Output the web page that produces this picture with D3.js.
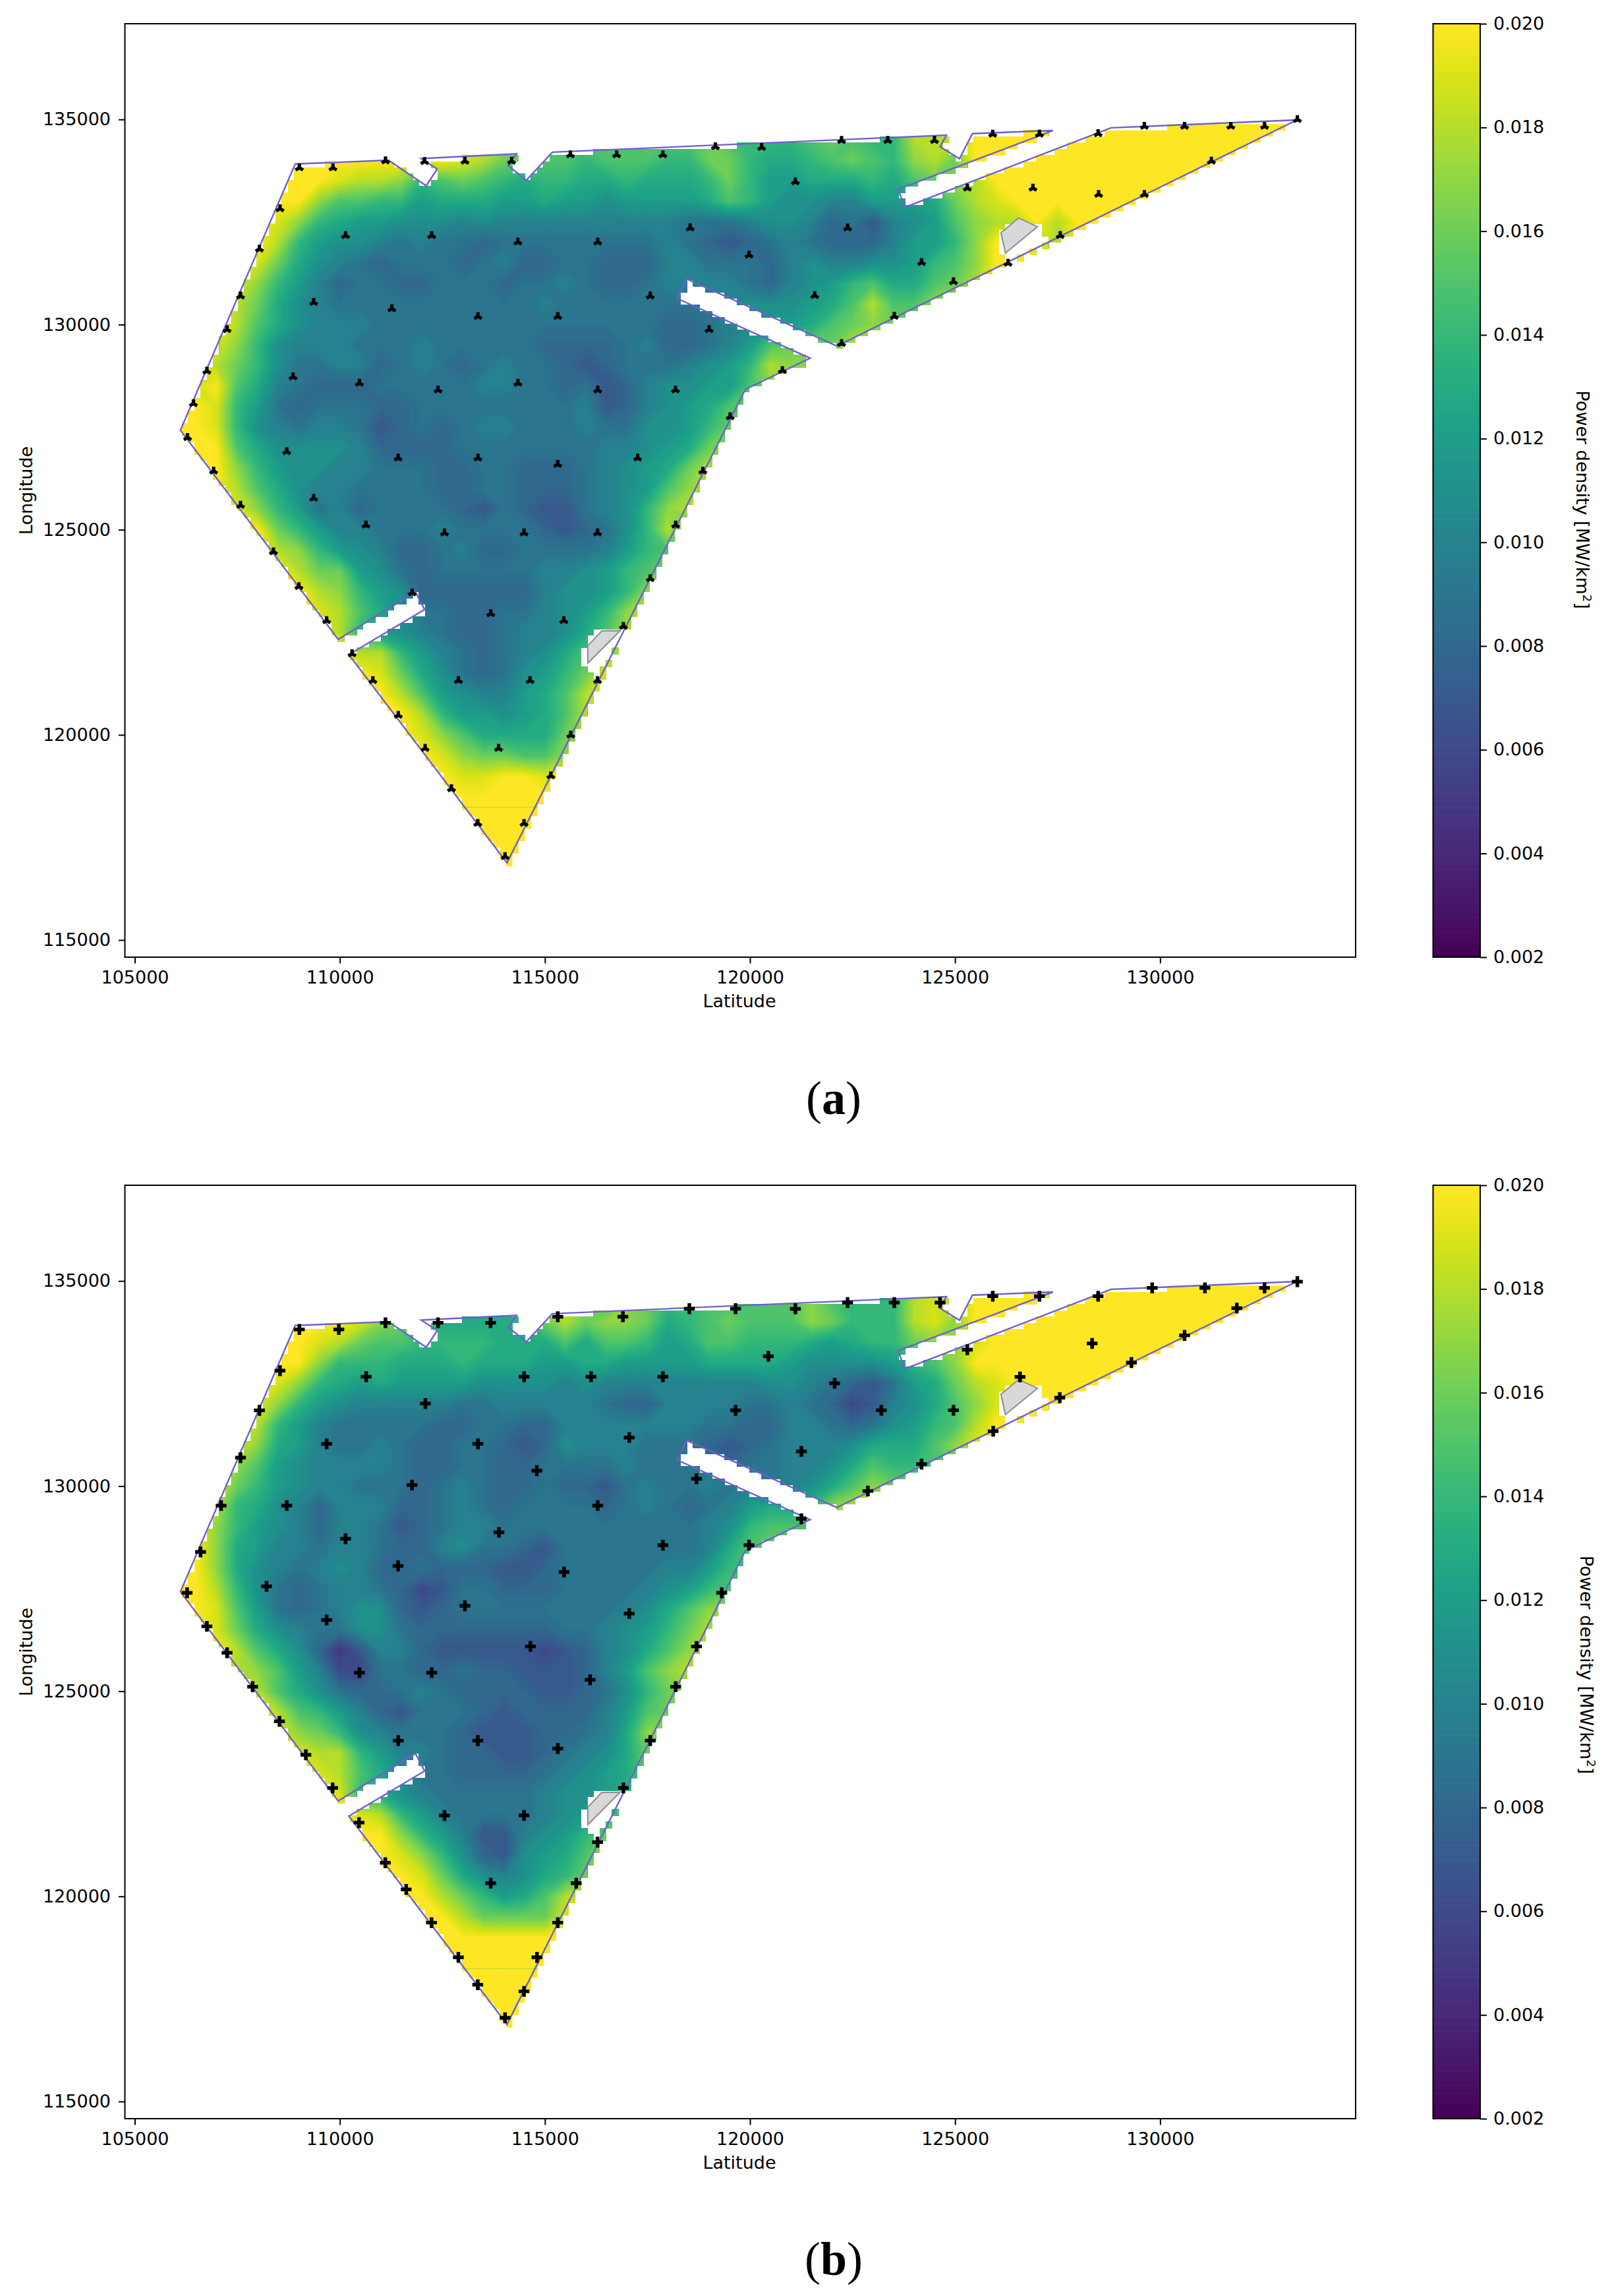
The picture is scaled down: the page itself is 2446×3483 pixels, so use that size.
<!DOCTYPE html>
<html>
<head>
<meta charset="utf-8">
<script src="https://cdn.jsdelivr.net/npm/d3@7"></script>
<style>
  body { margin: 0; background: #fff; }
  text { font-family: "DejaVu Sans", sans-serif; fill: #000; }
</style>
</head>
<body>
<div id="chart"></div>
<script>
const xTicks = [105000, 110000, 115000, 120000, 125000, 130000];
const yTicks = [115000, 120000, 125000, 130000, 135000];
const colorTicks = [0.002, 0.004, 0.006, 0.008, 0.010, 0.012, 0.014, 0.016, 0.018, 0.020];

// grid of the power density readings, 500 m spacing. East and south of it the map is saturated.
const gridX = d3.range(106000, 128001, 500);
const gridY = d3.range(135000, 118499, -500);

// power density in 0.001 MW/km2, one row per gridY, one value per gridX
const powerA = [
  [20,20,20,20,20, 20,20,20,20,20, 20,20,20,19,19, 18,17,16,15,15, 15,15,15,15,15, 15,16,15,14,14, 14,15,16,15,14, 14,18,18,18,20, 20,20,20,20,20],
  [20,20,20,20,20, 20,20,20,20,20, 20,20,20,19,19, 18,17,16,15,15, 15,15,15,15,15, 15,16,15,14,14, 14,15,16,15,14, 14,18,18,18,20, 20,20,20,20,20],
  [20,20,20,20,20, 20,20,20,20,20, 20,20,19,20,19, 18,16,16,15,15, 14,15,15,15,14, 14,16,16,14,13, 13,14,15,16,15, 14,17,18,16,20, 20,20,20,20,20],
  [20,20,20,20,20, 20,20,20,19,18, 18,17,14,15,16, 15,14,13,14,14, 13,13,14,13,13, 13,14,16,14,12, 12,13,13,13,14, 13,15,16,17,18, 20,20,20,20,20],
  [20,20,20,20,20, 20,20,17,15,15, 14,14,12,13,13, 13,12,12,13,12, 12,11,12,12,12, 12,13,15,14,12, 11,11,10,10,12, 12,12,13,16,18, 19,20,20,20,20],
  [20,20,20,20,20, 19,17,14,13,12, 12,11,11,11,10, 11,10,10,10,10, 10,10,10,10,10, 9,9,9,10,11, 11,10,8,9,7, 10,11,12,15,17, 18,18,20,18,20],
  [20,20,20,20,20, 18,14,12,11,11, 10,9,10,9,9, 8,9,9,9,9, 9,9,9,9,10, 9,8,7,8,9, 10,9,8,8,8, 10,12,12,14,17, 20,20,19,18,20],
  [20,20,20,20,19, 16,13,11,10,9, 8,9,9,9,8, 9,10,8,8,9, 9,8,8,8,10, 10,9,9,9,8, 10,11,10,10,11, 11,12,14,15,17, 20,20,20,20,20],
  [20,20,20,19,17, 14,12,10,8,9, 9,8,8,9,9, 9,8,9,9,10, 9,8,8,9,10, 10,10,10,9,8, 10,11,12,14,15, 13,13,15,16,18, 20,20,20,20,20],
  [20,20,20,18,16, 13,11,10,9,9, 9,9,9,9,9, 9,9,9,10,9, 9,9,9,9,9, 9,9,10,11,11, 11,12,13,15,18, 15,15,17,17,18, 20,20,20,20,20],
  [20,20,20,18,15, 13,11,10,10,10, 9,9,9,9,9, 9,9,9,9,9, 9,9,9,9,8, 8,9,10,11,12, 12,13,15,16,17, 16,16,17,18,18, 20,20,20,20,20],
  [20,20,19,17,14, 11,10,10,10,9, 9,9,10,9,9, 9,9,9,8,8, 8,8,9,10,8, 8,9,10,12,15, 16,16,16,18,18, 18,18,18,18,20, 20,20,20,20,20],
  [20,20,18,16,14, 11,9,9,10,10, 8,9,10,9,8, 9,10,9,9,8, 7,8,9,9,9, 10,11,12,14,18, 17,17,17,18,18, 18,18,18,18,20, 20,20,20,20,20],
  [20,19,20,15,13, 10,9,8,8,8, 9,9,9,9,9, 10,10,9,9,8, 9,7,8,10,11, 11,12,12,15,17, 17,17,17,18,18, 18,18,18,18,20, 20,20,20,20,20],
  [20,20,19,14,12, 9,8,9,9,9, 8,8,9,9,9, 9,9,9,9,9, 10,7,8,10,11, 12,13,15,16,16, 17,17,18,18,18, 18,18,18,18,20, 20,20,20,20,20],
  [20,20,19,14,11, 10,9,10,10,9, 7,8,9,8,9, 10,10,9,9,9, 10,9,9,11,11, 12,14,16,17,17, 17,18,18,18,18, 18,18,18,18,20, 20,20,20,20,20],
  [20,20,20,15,13, 11,11,11,11,10, 8,8,8,8,9, 9,9,9,9,9, 9,10,10,11,12, 13,16,17,18,18, 18,18,18,18,18, 18,18,18,18,20, 20,20,20,20,20],
  [20,20,20,17,14, 12,11,11,10,10, 9,9,9,8,8, 9,9,8,8,8, 9,10,11,12,13, 16,18,18,18,18, 18,18,18,18,18, 18,18,18,18,20, 20,20,20,20,20],
  [20,20,20,18,15, 13,11,10,10,9, 9,9,9,8,8, 9,9,8,8,8, 9,10,11,12,15, 17,18,18,18,18, 18,18,18,18,18, 18,18,18,18,20, 20,20,20,20,20],
  [20,20,20,19,17, 14,12,9,10,8, 9,9,9,9,8, 7,9,8,7,7, 9,10,11,14,17, 18,18,18,18,18, 18,18,18,18,18, 18,18,18,18,20, 20,20,20,20,20],
  [20,20,20,20,20, 16,14,12,10,10, 9,9,9,10,9, 9,9,9,8,7, 8,9,11,14,18, 15,17,17,17,17, 18,18,18,18,18, 18,18,18,18,20, 20,20,20,20,20],
  [20,20,20,20,20, 18,17,14,12,11, 10,8,8,9,10, 8,8,9,9,9, 9,10,12,14,15, 16,17,17,17,17, 18,18,18,18,18, 18,18,18,18,20, 20,20,20,20,20],
  [20,20,20,20,20, 20,18,16,16,12, 11,9,8,9,9, 9,9,9,10,10, 11,12,14,15,17, 17,17,17,17,17, 18,18,18,18,18, 18,18,18,18,20, 20,20,20,20,20],
  [20,20,20,20,20, 20,20,18,17,14, 12,11,8,8,8, 8,8,8,10,11, 11,12,14,17,17, 17,17,17,17,17, 18,18,18,18,18, 18,18,18,18,20, 20,20,20,20,20],
  [20,20,20,20,20, 20,20,19,18,15, 13,11,9,9,8, 8,9,9,10,11, 12,14,17,18,18, 18,18,18,18,18, 18,18,18,18,18, 18,18,18,18,20, 20,20,20,20,20],
  [20,20,20,20,20, 20,20,20,18,14, 12,11,10,9,8, 8,9,10,10,11, 13,15,18,18,18, 18,18,18,18,18, 18,18,18,18,18, 18,18,18,18,20, 20,20,20,20,20],
  [20,20,20,20,20, 20,20,20,20,18, 18,14,12,10,9, 8,9,10,11,13, 15,17,18,18,18, 18,18,18,18,18, 18,18,18,18,18, 18,18,18,18,20, 20,20,20,20,20],
  [20,20,20,20,20, 20,20,20,20,20, 19,16,13,11,9, 8,9,11,12,14, 16,19,19,19,19, 19,19,19,19,19, 19,19,19,19,19, 19,19,19,19,20, 20,20,20,20,20],
  [20,20,20,20,20, 20,20,20,20,20, 20,18,15,12,11, 10,10,12,13,15, 18,19,19,19,19, 19,19,19,19,19, 19,19,19,19,19, 19,19,19,19,20, 20,20,20,20,20],
  [20,20,20,20,20, 20,20,20,20,20, 20,20,18,14,12, 12,11,12,13,15, 18,19,19,19,19, 19,19,19,19,19, 19,19,19,19,19, 19,19,19,19,20, 20,20,20,20,20],
  [20,20,20,20,20, 20,20,20,20,20, 20,20,19,17,15, 13,13,13,13,16, 18,19,19,19,19, 19,19,19,19,19, 19,19,19,19,19, 19,19,19,19,20, 20,20,20,20,20],
  [20,20,20,20,20, 20,20,20,20,20, 20,20,20,19,17, 16,16,15,15,17, 19,20,20,20,20, 20,20,20,20,20, 20,20,20,20,20, 20,20,20,20,20, 20,20,20,20,20],
  [20,20,20,20,20, 20,20,20,20,20, 20,20,20,20,19, 19,20,20,19,20, 20,20,20,20,20, 20,20,20,20,20, 20,20,20,20,20, 20,20,20,20,20, 20,20,20,20,20],
  [20,20,20,20,20, 20,20,20,20,20, 20,20,20,20,20, 20,20,20,20,20, 20,20,20,20,20, 20,20,20,20,20, 20,20,20,20,20, 20,20,20,20,20, 20,20,20,20,20]
];
const powerB = [
  [20,20,20,20,20, 20,20,20,20,20, 19,17,16,14,14, 13,13,14,16,18, 16,15,17,16,14, 14,15,15,15,15, 15,17,15,14,14, 14,18,19,18,20, 20,20,20,20,20],
  [20,20,20,20,20, 20,20,20,20,20, 19,17,16,14,14, 13,13,14,16,18, 16,15,17,16,14, 14,15,15,15,15, 15,17,15,14,14, 14,18,19,18,20, 20,20,20,20,20],
  [20,20,20,20,20, 20,20,20,20,19, 17,16,15,13,13, 13,13,14,16,18, 16,17,17,16,13, 14,15,16,15,15, 15,17,16,14,14, 14,18,19,17,20, 20,20,20,20,20],
  [20,20,20,20,20, 20,20,19,18,16, 15,15,14,14,14, 14,13,13,13,15, 13,15,15,14,12, 13,15,15,14,14, 14,13,12,13,14, 14,16,17,17,19, 20,20,20,20,20],
  [20,20,20,20,20, 20,20,17,14,14, 14,13,13,13,14, 13,13,13,12,12, 13,13,12,12,12, 12,13,13,13,13, 12,11,11,11,11, 12,14,15,17,20, 20,20,20,20,20],
  [20,20,20,20,20, 19,17,14,13,12, 13,12,12,12,12, 11,11,11,11,10, 11,10,10,10,10, 10,10,10,10,11, 11,10,9,8,7, 9,12,13,16,18, 19,20,20,20,20],
  [20,20,20,20,19, 17,14,12,11,10, 10,10,10,10,9, 9,10,10,10,10, 10,9,8,8,10, 10,10,10,9,9, 10,9,8,6,7, 10,11,13,15,17, 19,20,20,20,20],
  [20,20,20,20,18, 14,12,10,9,9, 9,9,9,8,8, 9,9,8,8,10, 10,10,10,10,10, 10,9,9,8,8, 10,10,9,8,9, 11,12,14,15,18, 20,20,20,20,20],
  [20,20,20,19,17, 13,12,10,9,9, 10,9,8,8,9, 9,8,7,8,11, 10,10,10,9,9, 9,8,7,8,9, 10,10,10,11,13, 13,13,15,17,19, 20,20,20,20,20],
  [20,20,20,17,15, 12,11,10,10,10, 10,9,8,8,9, 9,8,8,9,9, 9,9,10,9,9, 9,9,8,9,9, 10,10,11,13,15, 14,14,15,16,19, 20,20,20,20,20],
  [20,20,19,16,14, 12,11,10,10,9, 9,9,8,9,10, 9,8,8,9,8, 8,7,9,10,9, 9,10,9,10,9, 10,11,13,15,17, 16,16,15,17,18, 20,20,20,20,20],
  [20,20,18,14,13, 11,10,8,10,10, 10,8,8,9,10, 9,8,9,9,9, 9,8,9,10,9, 8,9,10,12,13, 13,14,17,18,18, 18,18,18,18,20, 20,20,20,20,20],
  [20,20,17,14,12, 11,10,8,10,10, 9,7,8,9,10, 10,9,9,9,9, 9,9,9,9,9, 9,10,11,14,15, 15,15,17,18,18, 18,18,18,18,20, 20,20,20,20,20],
  [20,20,17,13,12, 10,10,9,10,10, 9,8,8,10,11, 9,9,8,7,9, 9,9,9,9,9, 9,10,13,15,16, 16,16,17,18,18, 18,18,18,18,20, 20,20,20,20,20],
  [20,20,17,13,11, 10,9,10,11,10, 8,8,9,8,8, 8,7,7,8,9, 9,9,9,9,10, 10,12,14,15,16, 16,16,17,18,18, 18,18,18,18,20, 20,20,20,20,20],
  [20,20,18,14,11, 9,8,9,10,10, 9,8,6,7,9, 9,8,8,8,9, 9,9,9,10,11, 12,14,15,16,16, 16,16,17,18,18, 18,18,18,18,20, 20,20,20,20,20],
  [20,20,19,15,12, 9,8,9,10,11, 11,8,7,8,9, 9,9,9,9,9, 9,9,10,11,13, 15,17,17,18,18, 18,18,18,18,18, 18,18,18,18,20, 20,20,20,20,20],
  [20,20,19,16,13, 11,10,9,9,11, 11,9,8,8,8, 8,8,8,8,9, 9,10,11,12,14, 16,18,18,18,18, 18,18,18,18,18, 18,18,18,18,20, 20,20,20,20,20],
  [20,20,20,18,15, 13,11,8,5,7, 10,10,8,7,7, 7,7,7,6,7, 8,10,11,13,15, 17,18,18,18,18, 18,18,18,18,18, 18,18,18,18,20, 20,20,20,20,20],
  [20,20,20,18,17, 15,12,10,6,6, 9,9,8,8,9, 8,8,7,7,7, 8,10,12,15,17, 18,18,18,18,18, 18,18,18,18,18, 18,18,18,18,20, 20,20,20,20,20],
  [20,20,20,20,18, 15,13,11,9,8, 8,9,10,9,8, 8,8,8,7,7, 8,9,11,14,16, 17,17,17,17,17, 18,18,18,18,18, 18,18,18,18,20, 20,20,20,20,20],
  [20,20,20,20,20, 18,15,14,12,10, 8,7,9,9,9, 8,7,8,8,8, 8,10,12,15,16, 18,18,18,18,18, 18,18,18,18,18, 18,18,18,18,20, 20,20,20,20,20],
  [20,20,20,20,20, 19,17,16,14,11, 10,9,9,9,8, 7,7,7,8,8, 9,10,13,17,17, 17,17,17,17,17, 18,18,18,18,18, 18,18,18,18,20, 20,20,20,20,20],
  [20,20,20,20,20, 20,19,18,18,14, 12,10,10,9,8, 8,7,7,8,9, 10,11,13,16,16, 16,16,16,16,16, 18,18,18,18,18, 18,18,18,18,20, 20,20,20,20,20],
  [20,20,20,20,20, 20,20,19,18,15, 13,11,9,9,8, 8,8,8,9,10, 11,12,13,16,17, 17,17,17,17,17, 18,18,18,18,18, 18,18,18,18,20, 20,20,20,20,20],
  [20,20,20,20,20, 20,20,20,19,14, 13,11,10,9,9, 9,9,9,10,11, 11,12,14,16,17, 17,17,17,17,17, 18,18,18,18,18, 18,18,18,18,20, 20,20,20,20,20],
  [20,20,20,20,20, 20,20,20,20,19, 18,14,12,10,9, 9,9,9,10,11, 12,14,15,16,17, 17,17,17,17,17, 18,18,18,18,18, 18,18,18,18,20, 20,20,20,20,20],
  [20,20,20,20,20, 20,20,20,20,20, 20,17,14,12,10, 7,7,10,11,12, 14,16,17,18,18, 18,18,18,18,18, 18,18,18,18,18, 18,18,18,18,20, 20,20,20,20,20],
  [20,20,20,20,20, 20,20,20,20,20, 20,19,17,14,11, 8,7,11,12,13, 15,18,19,19,19, 19,19,19,19,19, 19,19,19,19,19, 19,19,19,19,20, 20,20,20,20,20],
  [20,20,20,20,20, 20,20,20,20,20, 20,20,19,16,13, 11,10,11,13,14, 16,19,19,19,19, 19,19,19,19,19, 19,19,19,19,19, 19,19,19,19,20, 20,20,20,20,20],
  [20,20,20,20,20, 20,20,20,20,20, 20,20,20,18,16, 14,12,13,15,18, 19,20,20,20,20, 20,20,20,20,20, 20,20,20,20,20, 20,20,20,20,20, 20,20,20,20,20],
  [20,20,20,20,20, 20,20,20,20,20, 20,20,20,20,18, 16,16,16,16,19, 20,20,20,20,20, 20,20,20,20,20, 20,20,20,20,20, 20,20,20,20,20, 20,20,20,20,20],
  [20,20,20,20,20, 20,20,20,20,20, 20,20,20,20,20, 20,20,20,20,20, 20,20,20,20,20, 20,20,20,20,20, 20,20,20,20,20, 20,20,20,20,20, 20,20,20,20,20],
  [20,20,20,20,20, 20,20,20,20,20, 20,20,20,20,20, 20,20,20,20,20, 20,20,20,20,20, 20,20,20,20,20, 20,20,20,20,20, 20,20,20,20,20, 20,20,20,20,20]
];

// wind farm outline
const boundary = [
  [108911,133914],[111184,134007],[112106,133384],[112373,133790],[111984,134046],[114309,134163],
  [114105,133875],[114545,133517],[115182,134202],[124791,134618],[124634,134335],[125108,134041],
  [125423,134655],[127385,134730],[123609,133297],[123778,132860],[128803,134796],[133334,134987],
  [122119,129478],[118456,131114],[118231,130633],[121467,129182],[119886,128421],[114075,116881],
  [110220,121957],[112068,123056],[111843,123479],[109960,122327],[106113,127426]
];
const excluded = [
  [[126120,132235],[126549,132598],[127009,132385],[126228,131742]],
  [[116046,122171],[116383,122532],[116835,122540],[116046,121748]]
];
// areas round the excluded polygons where the map has no cells
const noData = [
  [[126056,132235],[126200,132556],[127100,132556],[127100,132235],[127288,132047],[126244,131565],[126056,131806]],
  [[115911,122171],[116046,122517],[116384,122670],[116643,122670],[116948,122555],[116249,121440],[116046,121594],[115911,121748]]
];

const turbinesA = [
  [109012,133821],[109832,133821],[111113,133992],[112066,133976],[113050,133984],[114187,133984],[115621,134140],[116749,134140],
  [117876,134140],[119157,134335],[120284,134319],[108541,132824],[108039,131842],[110139,132170],[112240,132170],[114341,132014],
  [116288,132014],[118542,132357],[119977,131695],[107578,130698],[109361,130542],[111267,130386],[113367,130199],[115314,130199],
  [117568,130698],[119003,129880],[107250,129880],[106758,128867],[108859,128727],[110478,128571],[112394,128408],[114341,128571],
  [116288,128408],[118183,128408],[119516,127754],[106430,128073],[106287,127248],[108705,126905],[111420,126749],[113367,126749],
  [115314,126593],[117261,126749],[118850,126430],[106922,126430],[107578,125597],[109361,125768],[110636,125115],[112552,124923],
  [114491,124923],[116283,124923],[118188,125115],[108382,124462],[109002,123616],[117568,123808],[111763,123462],[109678,122786],
  [113679,122955],[115460,122786],[116914,122647],[110298,121978],[110805,121325],[112890,121325],[114637,121325],[116283,121325],
  [111425,120479],[112079,119672],[113871,119672],[115629,119995],[115144,119003],[112721,118688],[113363,117842],[114491,117842],
  [114028,117035],[122233,134490],[123360,134490],[124498,134490],[125919,134643],[127057,134643],[128488,134656],[129616,134834],
  [130596,134834],[131723,134834],[132546,134834],[133346,134999],[131250,133986],[121106,133481],[125299,133328],[126899,133328],
  [128500,133174],[129616,133174],[122380,132356],[124183,131514],[126291,131495],[127564,132172],[124961,131046],[121579,130708],
  [123518,130204],[122233,129540],[120790,128882]
];
const turbinesB = [
  [109012,133817],[109975,133817],[111113,133981],[112394,133981],[113675,133981],[115314,134129],[116902,134129],[118521,134324],
  [119649,134324],[120448,133163],[108541,132813],[110642,132665],[114494,132665],[116124,132665],[117876,132665],[108039,131847],
  [112086,132011],[119649,131847],[109678,131030],[113367,131030],[117056,131185],[107578,130694],[114802,130375],[118696,130180],
  [111759,130025],[107106,129526],[108705,129526],[116288,129526],[113880,128872],[110139,128716],[117876,128561],[119977,128561],
  [106604,128397],[111420,128054],[115468,127906],[108213,127556],[106276,127400],[113050,127081],[119311,127400],[109678,126738],
  [117056,126894],[106758,126582],[107250,125936],[114648,126092],[118696,126092],[110478,125453],[112240,125453],[107875,125111],
  [116102,125280],[118188,125111],[108528,124265],[109171,123450],[111425,123796],[113364,123796],[115313,123604],[117568,123796],
  [109824,122643],[116914,122643],[110467,121798],[112552,121974],[114491,121974],[116283,121321],[111109,120821],[111617,120168],
  [113679,120322],[115764,120322],[112236,119360],[115313,119360],[112890,118515],[114806,118515],[113363,117846],[114491,117685],
  [114028,117039],[121106,134320],[122380,134474],[123518,134474],[124634,134474],[125919,134628],[127057,134628],[128488,134628],
  [129807,134830],[131092,134830],[132546,134830],[133346,134984],[131870,134338],[130596,133674],[128342,133478],[129300,133010],
  [125299,133324],[126584,132660],[127553,132156],[122064,132506],[123202,131848],[124961,131848],[125930,131338],[121253,130846],
  [124183,130538],[122875,129880],[121253,129204]
];

const width = 2446;
const height = 3483;
const frameLeft = 189.5;
const frameRight = 2057;
const frameHeight = 1416;
const cellSize = 152;
const fontSize = 27;

const svg = d3.select("#chart").append("svg")
  .attr("width", width)
  .attr("height", height)
  .style("display", "block");

const x = d3.scaleLinear().domain([104759, 134767]).range([frameLeft, frameRight]);
const y = d3.scaleLinear().domain([114582, 137333]).range([frameHeight, 0]);
const color = d3.scaleLinear().domain([2, 20]).range([0, 1]).clamp(true);
const gridStep = gridX[1] - gridX[0];

// cells of the map, staircase edge like the original image
function maskPath() {
  const inside = (cx, cy) => {
    const p = [cx - 40, cy + 40];
    if (!d3.polygonContains(boundary, p)) return false;
    return !noData.some(h => d3.polygonContains(h, p));
  };
  let d = "";
  for (let cy = 116800; cy < 135200; cy += cellSize) {
    let start = null;
    for (let cx = 106000; cx < 133600; cx += cellSize) {
      const isIn = inside(cx + cellSize / 2, cy + cellSize / 2);
      if (isIn && start === null) start = cx;
      if (!isIn && start !== null) {
        d += `M${x(start)},${y(cy)}H${x(cx)}V${y(cy + cellSize)}H${x(start)}Z`;
        start = null;
      }
    }
  }
  return d;
}
const maskD = maskPath();

function drawPanel(top, id, power, turbines, symbol, symbolSize, rotate, letter, letterY, labelX, labelY) {
  const g = svg.append("g").attr("transform", `translate(0,${top})`);

  g.append("clipPath").attr("id", id).append("path").attr("d", maskD);

  // power density map
  const map = g.append("g").attr("clip-path", `url(#${id})`);
  map.append("rect")
    .attr("x", frameLeft).attr("y", 0)
    .attr("width", frameRight - frameLeft).attr("height", frameHeight)
    .attr("fill", d3.interpolateViridis(1));

  const flat = power.flat();
  // levels every 0.2, kept on exact steps so the top level is 20
  const levels = d3.range(d3.min(flat) * 5, 101).map(v => v / 5);
  const contours = d3.contours()
    .size([gridX.length, gridY.length])
    .thresholds(levels)(flat);
  const path = d3.geoPath(d3.geoTransform({
    point(px, py) {
      this.stream.point(x(gridX[0] + (px - 0.5) * gridStep), y(gridY[0] - (py - 0.5) * gridStep));
    }
  }));
  map.selectAll(".band").data(contours).join("path")
    .attr("class", "band")
    .attr("d", path)
    .attr("fill", d => d3.interpolateViridis(color(d.value)))
    .attr("stroke", d => d3.interpolateViridis(color(d.value)))
    .attr("stroke-width", 0.5);

  // excluded polygons
  g.selectAll(".excl").data(excluded).join("path")
    .attr("class", "excl")
    .attr("d", d => "M" + d.map(p => [x(p[0]), y(p[1])].join(",")).join("L") + "Z")
    .attr("fill", "#d8d8d8")
    .attr("stroke", "#8c8c8c")
    .attr("stroke-width", 2);

  // boundary
  g.append("path")
    .attr("d", "M" + boundary.map(p => [x(p[0]), y(p[1])].join(",")).join("L") + "Z")
    .attr("fill", "none")
    .attr("stroke", "#6f5fd0")
    .attr("stroke-width", 2.4);

  // turbines
  const sym = d3.symbol().type(symbol).size(symbolSize);
  g.selectAll(".turbine").data(turbines).join("path")
    .attr("class", "turbine")
    .attr("d", sym())
    .attr("transform", d => `translate(${x(d[0])},${y(d[1])}) rotate(${rotate})`)
    .attr("fill", "#000");

  // axes
  const axisB = d3.axisBottom(x).tickValues(xTicks).tickFormat(d3.format("d")).tickSize(9.5).tickPadding(11);
  const axisL = d3.axisLeft(y).tickValues(yTicks).tickFormat(d3.format("d")).tickSize(9.5).tickPadding(12);
  const gx = g.append("g").attr("transform", `translate(0,${frameHeight})`).call(axisB);
  const gy = g.append("g").attr("transform", `translate(${frameLeft},0)`).call(axisL);
  [gx, gy].forEach(a => {
    a.select(".domain").remove();
    a.selectAll("line").attr("stroke", "#000").attr("stroke-width", 2);
    a.selectAll("text").attr("font-size", fontSize).attr("font-family", '"DejaVu Sans"').attr("fill", "#000");
  });
  g.append("rect")
    .attr("x", frameLeft).attr("y", 0)
    .attr("width", frameRight - frameLeft).attr("height", frameHeight)
    .attr("fill", "none").attr("stroke", "#000").attr("stroke-width", 2);

  g.append("text").attr("x", 1122).attr("y", frameHeight + 76)
    .attr("text-anchor", "middle").attr("font-size", fontSize).text("Latitude");
  g.append("text")
    .attr("transform", `translate(49,${frameHeight / 2}) rotate(-90)`)
    .attr("text-anchor", "middle").attr("font-size", fontSize).text("Longitude");

  // colorbar
  const barLeft = 2174.5;
  const barRight = 2246;
  const cy = d3.scaleLinear().domain([0.002, 0.020]).range([frameHeight, 0]);
  const strips = d3.range(0, 256);
  g.append("g").selectAll("rect").data(strips).join("rect")
    .attr("x", barLeft)
    .attr("width", barRight - barLeft)
    .attr("y", d => cy(0.002 + (d + 1) / 256 * 0.018))
    .attr("height", frameHeight / 256 + 0.6)
    .attr("fill", d => d3.interpolateViridis(d / 255));
  g.append("rect")
    .attr("x", barLeft).attr("y", 0)
    .attr("width", barRight - barLeft).attr("height", frameHeight)
    .attr("fill", "none").attr("stroke", "#000").attr("stroke-width", 2);
  const gc = g.append("g").attr("transform", `translate(${barRight},0)`)
    .call(d3.axisRight(cy).tickValues(colorTicks).tickFormat(d3.format(".3f")).tickSize(10).tickPadding(10));
  gc.select(".domain").remove();
  gc.selectAll("line").attr("stroke", "#000").attr("stroke-width", 2);
  gc.selectAll("text").attr("font-size", fontSize).attr("font-family", '"DejaVu Sans"').attr("fill", "#000");

  const cbLabel = g.append("text")
    .attr("transform", `translate(${labelX},${labelY}) rotate(90)`)
    .attr("text-anchor", "middle").attr("font-size", fontSize);
  cbLabel.append("tspan").text("Power density [MW/km");
  cbLabel.append("tspan").attr("font-size", 18).attr("dy", -10).text("2");
  cbLabel.append("tspan").attr("dy", 10).text("]");

  // panel letter
  const t = g.append("text").attr("x", 1265).attr("y", letterY)
    .attr("text-anchor", "middle").attr("font-size", 72)
    .style("font-family", '"Liberation Serif", serif');
  t.append("tspan").text("(");
  t.append("tspan").attr("font-weight", "bold").text(letter);
  t.append("tspan").text(")");
}

drawPanel(36, "maskA", powerA, turbinesA, d3.symbolWye, 90, 180, "a", 1654, 2392, 722);
drawPanel(1798, "maskB", powerB, turbinesB, d3.symbolCross, 150, 0, "b", 1653, 2398, 727.5);
</script>
</body>
</html>
